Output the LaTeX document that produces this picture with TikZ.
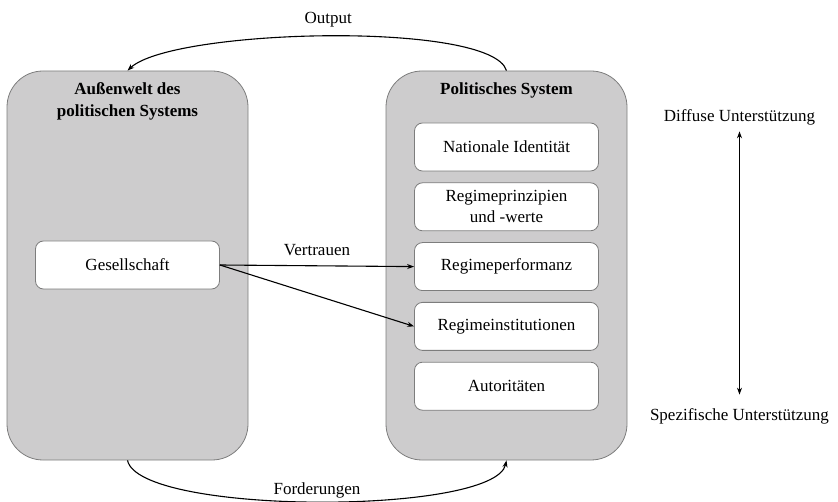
\documentclass[tikz,border=0pt]{standalone}
\usepackage{fontspec}
\setmainfont{Liberation Serif}
\usetikzlibrary{arrows.meta,positioning}

\definecolor{boxfill}{RGB}{205,204,205}
\definecolor{boxline}{RGB}{125,125,125}

\tikzset{
  bigbox/.style={draw=boxline, fill=boxfill, rounded corners=36pt, line width=0.8pt,
    minimum width=241pt, minimum height=389pt},
  innerbox/.style={draw=boxline, fill=white, rounded corners=8pt, line width=0.8pt,
    minimum width=184pt, minimum height=48pt, align=center},
  boxtitle/.style={font=\fontsize{17}{22}\selectfont\bfseries, align=center, inner sep=3.33pt},
  arr/.style={line width=1.1pt, -{Stealth[length=7pt,width=5pt]}},
}

\begin{document}
\begin{tikzpicture}[x=1pt, y=-1pt, font=\fontsize{17}{21}\selectfont]
  \useasboundingbox (0,0) rectangle (838,502);

  % the two large boxes
  \node [bigbox] (aus) at (127.5,265.5) {};
  \node [bigbox] (pol) at (506.5,265.5) {};
  \node [boxtitle, below=8.5pt of aus.north, anchor=north] (austitle) {Außenwelt des\\politischen Systems};
  \node [boxtitle, below=8.5pt of pol.north, anchor=north] (poltitle) {Politisches System};

  % society
  \node [innerbox] (ges) at (127.5,265) {Gesellschaft};

  % objects of support
  \node [innerbox] (ident) at (506.5,147) {Nationale Identität};
  \node [innerbox, below=11pt of ident] (prinz) {Regimeprinzipien\\und -werte};
  \node [innerbox, below=11pt of prinz] (perf) {Regimeperformanz};
  \node [innerbox, below=11pt of perf] (inst) {Regimeinstitutionen};
  \node [innerbox, below=11pt of inst] (auto) {Autoritäten};

  % trust
  \draw [arr] (ges.east) -- node [above=6pt] (vertrauen) {Vertrauen} (perf.west);
  \draw [arr] (ges.east) -- (inst.west);

  % feedback loop
  \draw [arr] (pol.north) .. controls +(-15,-50) and +(45,-42) .. node [above=5pt] (output) {Output} (aus.north);
  \draw [arr] (aus.south) .. controls +(12,55) and +(-12,55) .. node [above, inner sep=2.5pt] (forder) {Forderungen} (pol.south);

  % scale of support
  \node (diffuse) at (739.5,117) {Diffuse Unterstützung};
  \node (spez) at (739.5,416) {Spezifische Unterstützung};
  \draw [arr, {Stealth[length=7pt,width=5pt]}-{Stealth[length=7pt,width=5pt]}, shorten <=3pt, shorten >=10pt] (diffuse.south) -- (spez.north);
\end{tikzpicture}
\end{document}
